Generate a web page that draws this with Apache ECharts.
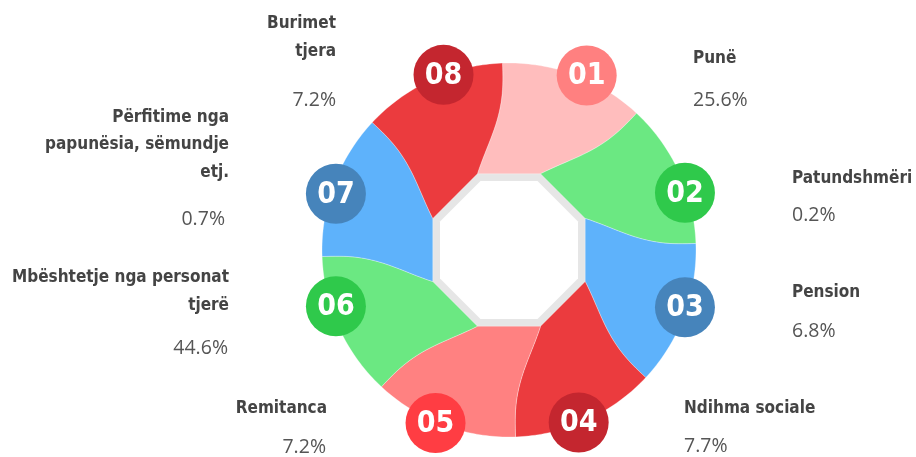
<!DOCTYPE html>
<html>
<head>
<meta charset="utf-8">
<script src="https://cdn.jsdelivr.net/npm/echarts@6/dist/echarts.min.js"></script>
<style>
  html, body { margin: 0; padding: 0; background: #fff; }
  #chart { width: 916px; height: 457px; }
</style>
</head>
<body>
<div id="chart"></div>
<script>
// te dhenat
const categories = ['Punë', 'Patundshmëri', 'Pension', 'Ndihma sociale', 'Remitanca',
  'Mbështetje nga personat\ntjerë', 'Përfitime nga\npapunësia, sëmundje\netj.', 'Burimet\ntjera']
const values = [25.6, 0.2, 6.8, 7.7, 7.2, 44.6, 0.7, 7.2]
const badges = ['01', '02', '03', '04', '05', '06', '07', '08']

const segmentColors = ['#ffbdbd', '#6be882', '#5eb2fb', '#eb3b3e', '#ff8181', '#6be882', '#5eb2fb', '#eb3b3e']
const badgeColors = ['#ff8080', '#2fc94b', '#4684bb', '#c4262f', '#ff3d43', '#2fc94b', '#4684bb', '#c4262f']

// vendosja e etiketave
const badgeAngles = [24, 72, 108, 158, 203, 252, 288, 339.5]
const badgeRadius = [191, 185, 185, 186, 188, 182, 182, 187]
const nameX = [693, 792, 792, 684, 327, 229, 229, 336]
const nameY = [58, 178, 292, 408, 408, 305, 172, 51]
const pctX = [693, 792, 792, 684, 326, 228, 225, 336]
const pctY = [100, 215, 331, 446, 447, 348, 219, 100]

const R = 187
const RI = 82.5
const NAME_FONT = "'DejaVu Sans Condensed', sans-serif"

const chart = echarts.init(document.getElementById('chart'))

function bend(t) {
  return 1 - Math.pow(1 - t, 3)
}

function renderCore(params, api) {
  const gray = []
  const white = []
  for (let k = 0; k < 8; k++) {
    const a = 45 * k - 22.5
    gray.push(api.coord([84, a]))
    white.push(api.coord([74.7, a]))
  }
  return {
    type: 'group',
    children: [
      { type: 'polygon', shape: { points: gray }, style: { fill: '#e6e6e6' } },
      { type: 'polygon', shape: { points: white }, style: { fill: '#fff' } }
    ]
  }
}

function renderSegment(params, api) {
  const i = params.dataIndex
  const a = 45 * i
  const pts = []
  const n = 24
  for (let s = 0; s <= n; s++) {
    const t = s / n
    pts.push(api.coord([RI + (R - RI) * t, a - 22.5 + 20.5 * bend(t)]))
  }
  for (let s = 1; s <= 45; s++) {
    pts.push(api.coord([R, a - 2 + s]))
  }
  for (let s = n; s >= 0; s--) {
    const t = s / n
    pts.push(api.coord([RI + (R - RI) * t, a + 22.5 + 20.5 * bend(t)]))
  }
  return {
    type: 'polygon',
    shape: { points: pts },
    style: { fill: segmentColors[i], stroke: 'rgba(255,255,255,0.5)', lineWidth: 0.6 }
  }
}

function renderBadge(params, api) {
  const i = params.dataIndex
  const p = api.coord([badgeRadius[i], badgeAngles[i]])
  const right = nameX[i] > 509
  return {
    type: 'group',
    children: [
      { type: 'circle', shape: { cx: p[0], cy: p[1], r: 30 }, style: { fill: badgeColors[i] } },
      {
        type: 'text',
        style: {
          text: badges[i], x: p[0], y: p[1] + 1, align: 'center', verticalAlign: 'middle',
          fill: '#fff', fontSize: 30, fontWeight: 'bold', fontFamily: NAME_FONT
        }
      },
      {
        type: 'text',
        style: {
          text: categories[i], x: nameX[i], y: nameY[i] + 14, align: right ? 'left' : 'right',
          verticalAlign: 'bottom', lineHeight: 27.5,
          fill: '#444', fontSize: 17, fontWeight: 'bold', fontFamily: NAME_FONT
        }
      },
      {
        type: 'text',
        style: {
          text: api.value(1).toFixed(1) + '%', x: pctX[i], y: pctY[i], align: right ? 'left' : 'right',
          verticalAlign: 'middle', fill: '#555', fontSize: 19.5, fontFamily: "'Open Sans', sans-serif"
        }
      }
    ]
  }
}

const seriesData = categories.map((c, i) => ({ name: c, value: [i, values[i]] }))

const option = {
  animation: false,
  polar: { center: [509, 250], radius: R },
  angleAxis: { type: 'value', min: 0, max: 360, startAngle: 90, clockwise: true, show: false },
  radiusAxis: { type: 'value', min: 0, max: R, show: false },
  series: [
    { type: 'custom', coordinateSystem: 'polar', renderItem: renderCore, data: [[0, 0]], z: 1, silent: true },
    { type: 'custom', coordinateSystem: 'polar', renderItem: renderSegment, data: seriesData, z: 2 },
    { type: 'custom', coordinateSystem: 'polar', renderItem: renderBadge, data: seriesData, z: 3 }
  ]
}
chart.setOption(option)
</script>
</body>
</html>
